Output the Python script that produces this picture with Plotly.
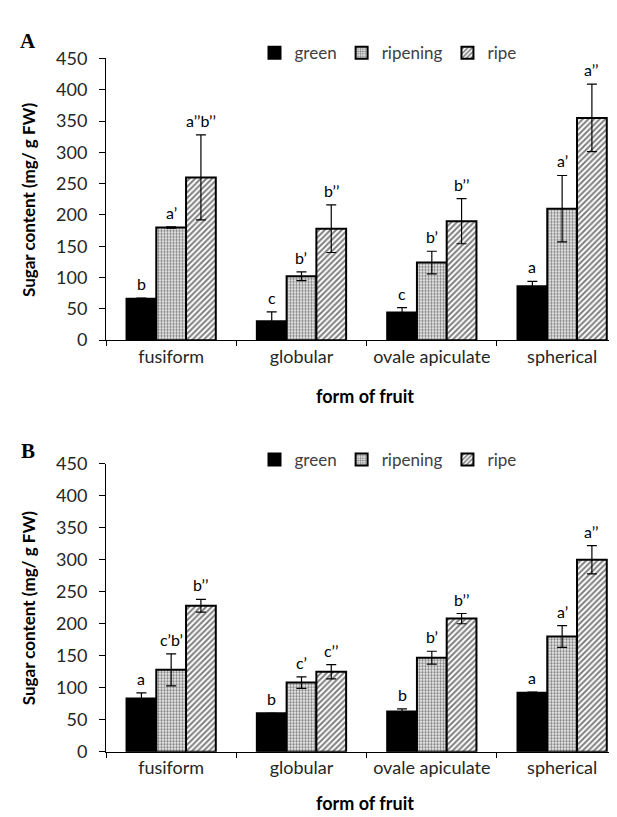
import plotly.graph_objects as go

categories = ["fusiform", "globular", "ovale apiculate", "spherical"]
stages = ["green", "ripening", "ripe"]

# Panel A values (mg/g FW) and errors
a_green = [66, 30, 44, 86]
a_green_err = [1, 15, 8, 8]
a_ripening = [180, 102, 124, 210]
a_ripening_err = [1, 7, 18, 53]
a_ripe = [260, 178, 190, 355]
a_ripe_err = [68, 38, 36, 54]
a_letters_green = ["b", "c", "c", "a"]
a_letters_ripening = ["a’", "b’", "b’", "a’"]
a_letters_ripe = ["a’’b’’", "b’’", "b’’", "a’’"]

# Panel B values
b_green = [83, 60, 63, 92]
b_green_err = [9, 0, 4, 1]
b_ripening = [128, 108, 147, 180]
b_ripening_err = [25, 9, 10, 17]
b_ripe = [228, 125, 208, 300]
b_ripe_err = [10, 11, 8, 22]
b_letters_green = ["a", "b", "b", "a"]
b_letters_ripening = ["c’b’", "c’", "b’", "a’"]
b_letters_ripe = ["b’’", "c’’", "b’’", "a’’"]

y_ticks = [0, 50, 100, 150, 200, 250, 300, 350, 400, 450]

W, H = 617, 817
FONT = "Lato"
TXT = "#262626"

fig = go.Figure()

styles = [
    dict(color="black", pattern=None),
    dict(color="white", pattern=dict(shape=".", fgcolor="black", bgcolor="white", size=3, solidity=0.5)),
    dict(color="white", pattern=dict(shape="/", fgcolor="black", bgcolor="white", size=4, solidity=0.5)),
]

panels = [
    ("x", "y", "legend", [a_green, a_ripening, a_ripe], [a_green_err, a_ripening_err, a_ripe_err],
     [a_letters_green, a_letters_ripening, a_letters_ripe]),
    ("x2", "y2", "legend2", [b_green, b_ripening, b_ripe], [b_green_err, b_ripening_err, b_ripe_err],
     [b_letters_green, b_letters_ripening, b_letters_ripe]),
]

bargap = 0.315
bw = (1 - bargap) / 3

annotations = []
for xa, ya, leg, vals, errs, letters in panels:
    for j, st in enumerate(stages):
        marker = dict(color=styles[j]["color"], line=dict(color="black", width=2))
        if styles[j]["pattern"]:
            marker["pattern"] = styles[j]["pattern"]
        fig.add_trace(go.Bar(
            x=categories, y=vals[j], name=st, xaxis=xa, yaxis=ya, legend=leg,
            marker=marker,
            error_y=dict(type="data", array=errs[j], visible=True, color="black", thickness=1.2, width=5),
        ))
        for i in range(len(categories)):
            annotations.append(dict(
                x=i + (j - 1) * bw, y=vals[j][i] + errs[j][i], xref=xa, yref=ya,
                text=letters[j][i], showarrow=False, yanchor="bottom", yshift=3,
                font=dict(family=FONT, size=16, color="black"),
            ))

domA = [1 - 329 / H, 1 - 39.5 / H]
domB = [1 - 752 / H, 1 - 456 / H]
xdom = [98 / W, 1]
xrange = [-0.5, 3.5 - 2.3 / 130]

axis_x = dict(domain=xdom, range=xrange, showline=True, linecolor="black", linewidth=1,
              ticks="outside", ticklen=5, tickcolor="black", tickson="boundaries",
              tickfont=dict(family=FONT, size=18, color=TXT), showgrid=False, zeroline=False)
axis_y = dict(range=[0, 450], tickvals=y_ticks, showline=True, linecolor="black", linewidth=1,
              ticks="outside", ticklen=6, tickcolor="black", ticklabelstandoff=8,
              tickfont=dict(family=FONT, size=18, color=TXT), showgrid=False, zeroline=False)

leg_common = dict(orientation="h", x=380 / W, xanchor="center", yanchor="middle",
                  font=dict(family=FONT, size=17, color="#404040"), itemwidth=30,
                  bgcolor="rgba(0,0,0,0)")

fig.update_layout(
    width=W, height=H, margin=dict(l=0, r=0, t=0, b=0),
    paper_bgcolor="white", plot_bgcolor="white",
    barmode="group", bargap=bargap, bargroupgap=0,
    xaxis=dict(axis_x, anchor="y"),
    yaxis=dict(axis_y, domain=domA, anchor="x"),
    xaxis2=dict(axis_x, anchor="y2"),
    yaxis2=dict(axis_y, domain=domB, anchor="x2"),
    legend=dict(leg_common, y=1 - 34 / H),
    legend2=dict(leg_common, y=1 - 452 / H),
    showlegend=True,
)

# panel letters, axis titles
for txt, yc in [("A", 22), ("B", 443)]:
    annotations.append(dict(x=20 / W, y=1 - yc / H, xref="paper", yref="paper", text="<b>%s</b>" % txt,
                            showarrow=False, xanchor="center", yanchor="middle",
                            font=dict(family="Liberation Serif", size=21, color="black")))
for yc in [185, 604.5]:
    annotations.append(dict(x=20 / W, y=1 - yc / H, xref="paper", yref="paper",
                            text="<b>Sugar content (mg/ g FW)</b>", textangle=-90,
                            showarrow=False, xanchor="center", yanchor="middle",
                            font=dict(family=FONT, size=17, color="black")))
for yc in [386.5, 805]:
    annotations.append(dict(x=(98 + 519 / 2 - 1) / W, y=1 - yc / H, xref="paper", yref="paper",
                            text="<b>form of fruit</b>", showarrow=False,
                            xanchor="center", yanchor="middle",
                            font=dict(family=FONT, size=18, color="black")))

fig.update_layout(annotations=annotations)
fig.write_html("out.html")
